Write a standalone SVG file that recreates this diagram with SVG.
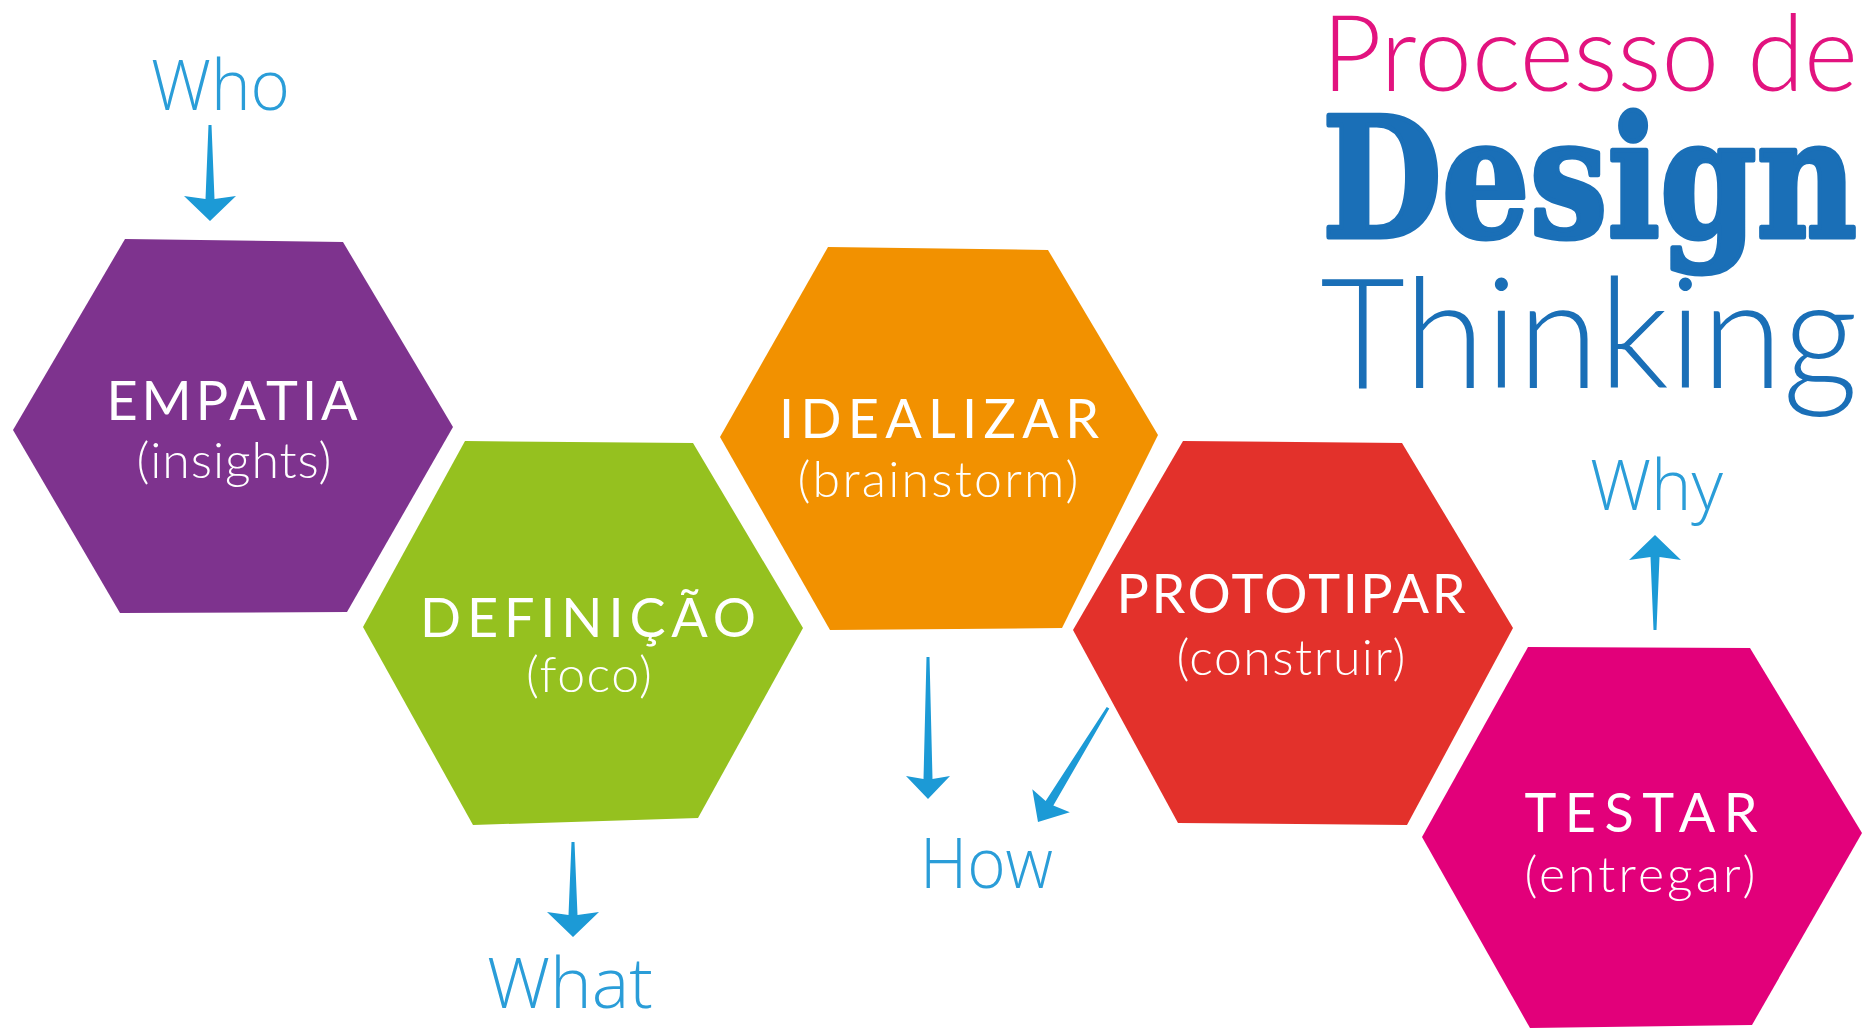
<svg xmlns="http://www.w3.org/2000/svg" width="1873" height="1028" viewBox="0 0 1873 1028">
<style>
.hex{stroke:none}
.h{font-family:Lato,"Noto Sans","DejaVu Sans",sans-serif;font-size:54px;fill:#fff;text-anchor:middle;font-weight:400}
.s{font-family:Lato,"Noto Sans","DejaVu Sans",sans-serif;font-size:50px;fill:#fff;text-anchor:middle;font-weight:300}
.q{font-family:"Open Sans","DejaVu Sans",sans-serif;font-size:70px;fill:#2a9dd8;font-weight:300}
.arr{fill:#1c9ad6}
.t1{font-family:Lato,"Noto Sans",sans-serif;font-weight:300;font-size:106px;fill:#e2137f}
.t2{font-family:"DejaVu Serif","Liberation Serif",serif;font-weight:bold;font-size:166px;fill:#1a6fb7;stroke:#1a6fb7;stroke-width:5;stroke-linejoin:round}
.t3{font-family:Lato,"Noto Sans",sans-serif;font-weight:300;font-size:155px;fill:#1a6fb7}
</style>
<rect width="1873" height="1028" fill="#fff"/>

<g id="title">
<text class="t1" x="1322" y="91" textLength="536" lengthAdjust="spacingAndGlyphs">Processo de</text>
<text class="t2" x="1322" y="237" textLength="535" lengthAdjust="spacingAndGlyphs">Design</text>
<text class="t3" x="1320" y="388" textLength="538" lengthAdjust="spacingAndGlyphs">Thinking</text>
</g>

<g id="empatia">
<polygon class="hex" fill="#7e338e" points="125,239 343,242 453,427 347,612 120,613 13,430"/>
<text class="h" x="232" y="420" textLength="251" lengthAdjust="spacing">EMPATIA</text>
<text class="s" x="234" y="478" textLength="195" lengthAdjust="spacing">(insights)</text>
</g>

<g id="definicao">
<polygon class="hex" fill="#95c11f" points="465,441 693,443 803,628 698,818 473,825 363,627"/>
<text class="h" x="588" y="637" textLength="336" lengthAdjust="spacing">DEFINIÇÃO</text>
<text class="s" x="589" y="692" textLength="126" lengthAdjust="spacing">(foco)</text>
</g>

<g id="idealizar">
<polygon class="hex" fill="#f29100" points="828,247 1048,250 1158,435 1062,628 830,630 720,437"/>
<text class="h" x="939" y="438" textLength="320" lengthAdjust="spacing">IDEALIZAR</text>
<text class="s" x="938" y="497" textLength="281" lengthAdjust="spacing">(brainstorm)</text>
</g>

<g id="prototipar">
<polygon class="hex" fill="#e3312b" points="1183,441 1402,443 1513,628 1407,825 1178,823 1073,630"/>
<text class="h" x="1291" y="613" textLength="349" lengthAdjust="spacing">PROTOTIPAR</text>
<text class="s" x="1291" y="675" textLength="229" lengthAdjust="spacing">(construir)</text>
</g>

<g id="testar">
<polygon class="hex" fill="#e2007a" points="1528,647 1750,648 1862,833 1752,1025 1530,1028 1422,837"/>
<text class="h" x="1641" y="832" textLength="233" lengthAdjust="spacing">TESTAR</text>
<text class="s" x="1640" y="892" textLength="231" lengthAdjust="spacing">(entregar)</text>
</g>

<g id="labels">
<text class="q" x="151" y="110" textLength="139" lengthAdjust="spacingAndGlyphs">Who</text>
<text class="q" x="487" y="1008" textLength="166" lengthAdjust="spacingAndGlyphs">What</text>
<text class="q" x="920" y="888" textLength="133" lengthAdjust="spacingAndGlyphs">How</text>
<text class="q" x="1590" y="510" textLength="133" lengthAdjust="spacingAndGlyphs">Why</text>
</g>

<g id="connectors">
<path class="arr" transform="translate(210,221)" d="M-1.5,-96 L1.5,-96 L4.5,-22 L26,-25 L0,0 L-26,-25 L-4.5,-22 Z"/>
<path class="arr" transform="translate(573,937)" d="M-1.5,-95 L1.5,-95 L4.5,-22 L26,-25 L0,0 L-26,-25 L-4.5,-22 Z"/>
<path class="arr" transform="translate(928,799)" d="M-1.5,-142 L1.5,-142 L4.5,-20 L22,-23 L0,0 L-22,-23 L-4.5,-20 Z"/>
<path class="arr" transform="translate(1038,822) rotate(31.5)" d="M-1.5,-134 L1.5,-134 L4.5,-22 L22,-25 L0,0 L-22,-25 L-4.5,-22 Z"/>
<path class="arr" transform="translate(1655,535) rotate(180)" d="M-1.5,-95 L1.5,-95 L4.5,-22 L26,-25 L0,0 L-26,-25 L-4.5,-22 Z"/>
</g>
</svg>
